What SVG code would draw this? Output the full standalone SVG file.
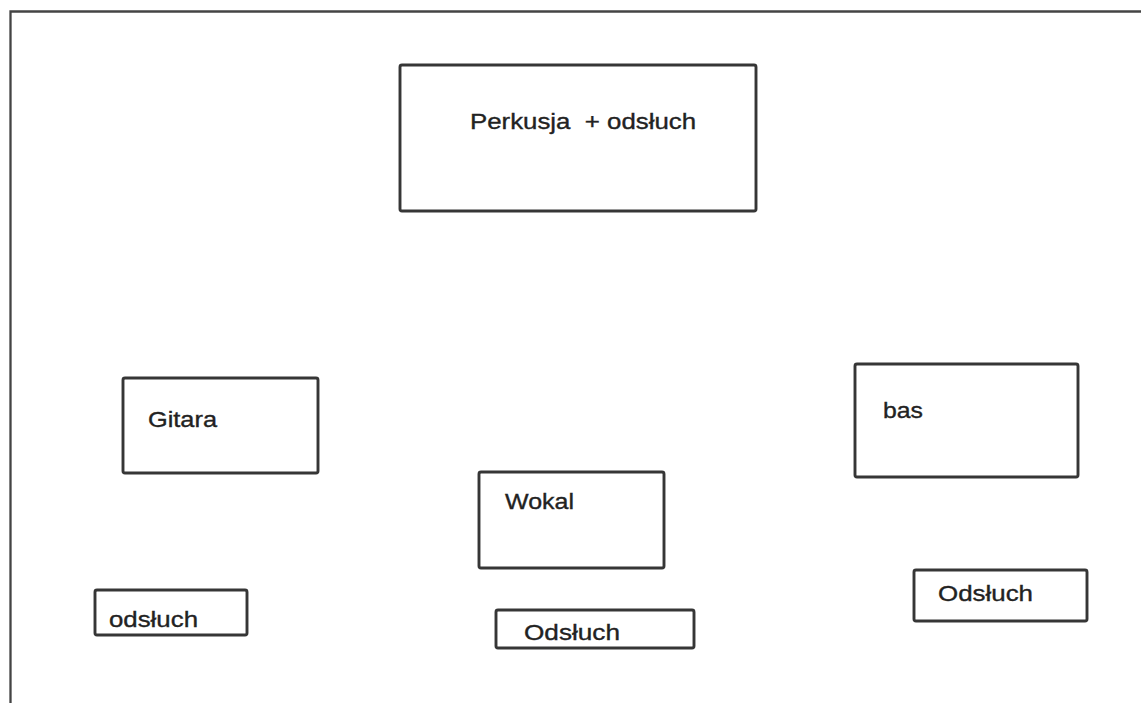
<svg xmlns="http://www.w3.org/2000/svg" width="1141" height="703" viewBox="0 0 1141 703">
<style>
.box{fill:none;stroke:#363636;stroke-width:2.9;rx:2}
.lbl{font-family:"Liberation Sans",Arial,sans-serif;font-size:22px;fill:#222;stroke:#222;stroke-width:0.35}
.frame{fill:none;stroke:#444;stroke-width:2.3}
</style>
<rect width="1141" height="703" fill="#fff"/>
<g id="frame"><path class="frame" d="M10.5,703 V11.5 H1141"/></g>
<g id="connectors"></g>
<g id="perkusja"><rect class="box" x="400" y="65" width="356" height="146"/><text class="lbl" x="470" y="129" textLength="226" lengthAdjust="spacingAndGlyphs" xml:space="preserve">Perkusja  + odsłuch</text></g>
<g id="gitara"><rect class="box" x="123" y="378" width="195" height="95"/><text class="lbl" x="148" y="427" textLength="69" lengthAdjust="spacingAndGlyphs">Gitara</text></g>
<g id="odsluch-left"><rect class="box" x="95" y="590" width="152" height="45"/><text class="lbl" x="109" y="627" textLength="89" lengthAdjust="spacingAndGlyphs">odsłuch</text></g>
<g id="wokal"><rect class="box" x="479" y="472" width="185" height="96"/><text class="lbl" x="505" y="509" textLength="69" lengthAdjust="spacingAndGlyphs">Wokal</text></g>
<g id="odsluch-center"><rect class="box" x="496" y="610" width="198" height="38"/><text class="lbl" x="524" y="640" textLength="96" lengthAdjust="spacingAndGlyphs">Odsłuch</text></g>
<g id="bas"><rect class="box" x="855" y="364" width="223" height="113"/><text class="lbl" x="883" y="418" textLength="40" lengthAdjust="spacingAndGlyphs">bas</text></g>
<g id="odsluch-right"><rect class="box" x="914" y="570" width="173" height="51"/><text class="lbl" x="938" y="601" textLength="95" lengthAdjust="spacingAndGlyphs">Odsłuch</text></g>
</svg>
